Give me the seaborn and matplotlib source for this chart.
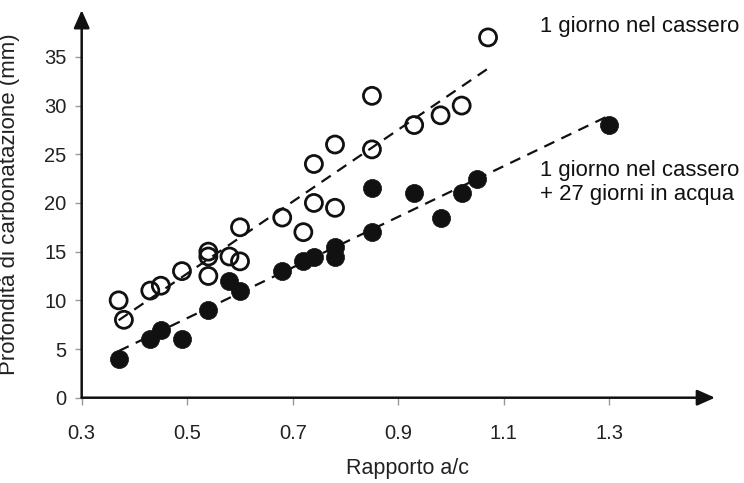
import matplotlib
matplotlib.use("Agg")
import matplotlib.pyplot as plt
import seaborn as sns
import numpy as np
import pandas as pd

# Data: 1 giorno nel cassero (open circles)
x_open = [0.37, 0.38, 0.43, 0.45, 0.49, 0.54, 0.54, 0.54, 0.58, 0.60, 0.60,
          0.68, 0.72, 0.74, 0.74, 0.78, 0.78, 0.85, 0.85, 0.93, 0.98, 1.02, 1.07]
y_open = [10, 8, 11, 11.5, 13, 15, 14.5, 12.5, 14.5, 14, 17.5,
          18.5, 17, 20, 24, 19.5, 26, 25.5, 31, 28, 29, 30, 37]

# Data: 1 giorno nel cassero + 27 giorni in acqua (filled circles)
x_fill = [0.37, 0.43, 0.45, 0.49, 0.54, 0.58, 0.60, 0.68, 0.72, 0.74,
          0.78, 0.78, 0.85, 0.85, 0.93, 0.98, 1.02, 1.05, 1.30]
y_fill = [4, 6, 7, 6, 9, 12, 11, 13, 14, 14.5,
          14.5, 15.5, 17, 21.5, 21, 18.5, 21, 22.5, 28]

x_ticks = [0.3, 0.5, 0.7, 0.9, 1.1, 1.3]
x_tick_labels = ["0.3", "0.5", "0.7", "0.9", "1.1", "1.3"]
y_ticks = [0, 5, 10, 15, 20, 25, 30, 35]

label_open = "1 giorno nel cassero"
label_fill = "1 giorno nel cassero\n+ 27 giorni in acqua"

sns.set_theme(style="white")
plt.rcParams['font.family'] = ['Liberation Sans', 'DejaVu Sans']

df_open = pd.DataFrame({"x": x_open, "y": y_open})
df_fill = pd.DataFrame({"x": x_fill, "y": y_fill})

fig = plt.figure(figsize=(7.44, 4.83), dpi=100)
ax = fig.add_axes([0.1098, 0.1766, 0.961 - 0.1098, 0.979 - 0.1766])

line_kws = dict(color="#111111", lw=1.6, ls=(0, (5, 3.5)))
sns.regplot(data=df_open, x="x", y="y", ax=ax, ci=None, truncate=True,
            color="#111111", marker="o",
            scatter_kws=dict(s=150, facecolors="none", edgecolors="#111111",
                             linewidths=2.0, alpha=1, zorder=3),
            line_kws=line_kws)
sns.regplot(data=df_fill, x="x", y="y", ax=ax, ci=None, truncate=True,
            color="#111111", marker="o",
            scatter_kws=dict(s=170, facecolors="#111111", edgecolors="#111111",
                             linewidths=0.5, alpha=1, zorder=3),
            line_kws=line_kws)

ax.set_xlim(0.3, 1.50)
ax.set_ylim(0, 39.8)
ax.set_xticks(x_ticks)
ax.set_xticklabels(x_tick_labels)
ax.set_yticks(y_ticks)

for s in ax.spines.values():
    s.set_visible(False)

ax.annotate("", xy=(1, 0), xytext=(0, 0), xycoords="axes fraction",
            arrowprops=dict(arrowstyle="-|>,head_length=0.9,head_width=0.4",
                            color="#111111", lw=1.8, shrinkA=0, shrinkB=0),
            annotation_clip=False)
ax.annotate("", xy=(0, 1), xytext=(0, 0), xycoords="axes fraction",
            arrowprops=dict(arrowstyle="-|>,head_length=0.9,head_width=0.4",
                            color="#111111", lw=1.8, shrinkA=0, shrinkB=0),
            annotation_clip=False)

ax.tick_params(axis="both", which="both", length=5, width=1, color="#999999",
               labelsize=14.5, labelcolor="#222222", direction="out")
ax.tick_params(axis="x", pad=14)
ax.tick_params(axis="y", pad=6)
ax.xaxis.set_ticks_position("bottom")
ax.yaxis.set_ticks_position("left")

ax.set_xlabel("Rapporto a/c", fontsize=15.5, color="#222222")
ax.set_ylabel("Profondità di carbonatazione (mm)", fontsize=16, color="#222222")
ax.xaxis.set_label_coords(0.515, -0.155)
ax.yaxis.set_label_coords(-0.097, 0.5)

ax.text(1.168, 38.1, label_open, fontsize=15.9, color="#111111",
        ha="left", va="center")
ax.text(1.168, 22.1, label_fill, fontsize=15.9, color="#111111",
        ha="left", va="center", linespacing=1.2)

ax.grid(False)
fig.savefig("out.png", dpi=100)
